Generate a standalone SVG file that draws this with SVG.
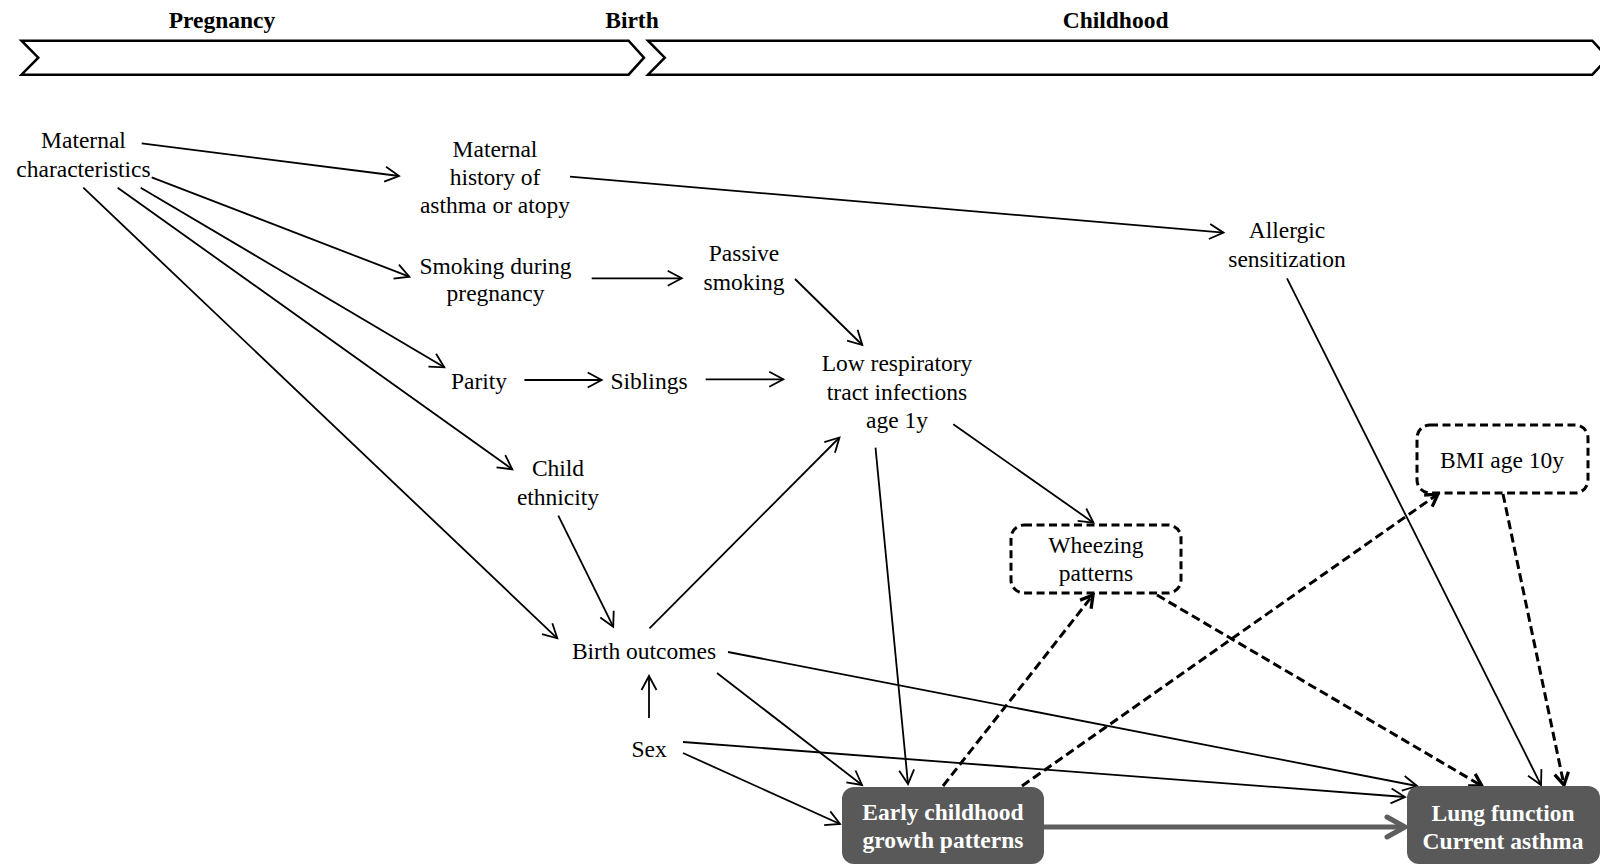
<svg xmlns="http://www.w3.org/2000/svg" width="1600" height="864" viewBox="0 0 1600 864">
<style>
.t{font-family:"Liberation Serif","Times New Roman",serif;font-size:23.5px;text-anchor:middle;fill:#000}
.b{font-weight:bold}
.w{fill:#fff;font-weight:bold}
.ln{stroke:#000;stroke-width:1.8;fill:none}
.ds{stroke:#000;stroke-width:3;fill:none;stroke-dasharray:9 4.5}
.gr{stroke:#5e5e5e;stroke-width:5;fill:none}
.chev{fill:#fff;stroke:#000;stroke-width:2.5;stroke-linejoin:miter}
.dbox{fill:#fff;stroke:#000;stroke-width:3;stroke-dasharray:8 4.5}
.gbox{fill:#595959;stroke:none}
</style>
<defs>
<marker id="ah" markerUnits="userSpaceOnUse" markerWidth="24" markerHeight="24" viewBox="0 0 24 24" refX="17" refY="12" orient="auto">
<path d="M3,4.5 L17,12 L3,19.5" fill="none" stroke="#000" stroke-width="1.8"/>
</marker>
<marker id="ahd" markerUnits="userSpaceOnUse" markerWidth="24" markerHeight="24" viewBox="0 0 24 24" refX="17" refY="12" orient="auto">
<path d="M5,5 L17,12 L5,19" fill="none" stroke="#000" stroke-width="3.3" stroke-dasharray="none"/>
</marker>
<marker id="ahg" markerUnits="userSpaceOnUse" markerWidth="30" markerHeight="30" viewBox="0 0 30 30" refX="22" refY="15" orient="auto">
<path d="M4,5 L22,15 L4,25" fill="none" stroke="#5e5e5e" stroke-width="5" stroke-linecap="round" stroke-linejoin="round"/>
</marker>
</defs>
<rect width="1600" height="864" fill="#fff"/>

<g id="timeline">
<polygon class="chev" points="21.5,40.7 628.6,40.7 644,57.7 628.6,74.7 21.5,74.7 38.3,57.7"/>
<polygon class="chev" points="648,40.7 1592.3,40.7 1608,57.7 1592.3,74.7 648,74.7 664.8,57.7"/>
<text class="t b" x="222" y="28.3">Pregnancy</text>
<text class="t b" x="632" y="28.3">Birth</text>
<text class="t b" x="1115.6" y="28.3">Childhood</text>
</g>

<g id="connectors">
<line class="ln" marker-end="url(#ah)" x1="141.7" y1="143.3" x2="399" y2="176"/>
<line class="ln" marker-end="url(#ah)" x1="151.7" y1="177.3" x2="409.3" y2="276.7"/>
<line class="ln" marker-end="url(#ah)" x1="140.7" y1="187.7" x2="444.3" y2="367.3"/>
<line class="ln" marker-end="url(#ah)" x1="117.7" y1="187.7" x2="512.3" y2="469.3"/>
<line class="ln" marker-end="url(#ah)" x1="83.3" y1="187.7" x2="557.3" y2="638.3"/>
<line class="ln" marker-end="url(#ah)" x1="570" y1="176.7" x2="1223.5" y2="232.7"/>
<line class="ln" marker-end="url(#ah)" x1="591.7" y1="278.3" x2="681.7" y2="278.3"/>
<line class="ln" marker-end="url(#ah)" x1="795" y1="279" x2="862.3" y2="345"/>
<line class="ln" marker-end="url(#ah)" x1="524.4" y1="380" x2="601.7" y2="380"/>
<line class="ln" marker-end="url(#ah)" x1="705.7" y1="379.3" x2="783.3" y2="379.3"/>
<line class="ln" marker-end="url(#ah)" x1="558.3" y1="515.7" x2="613.2" y2="626.7"/>
<line class="ln" marker-end="url(#ah)" x1="649.5" y1="628.3" x2="839.5" y2="437.5"/>
<line class="ln" marker-end="url(#ah)" x1="953.3" y1="424.3" x2="1093.4" y2="522.7"/>
<line class="ln" marker-end="url(#ah)" x1="875.5" y1="447.7" x2="908" y2="784"/>
<line class="ln" marker-end="url(#ah)" x1="649" y1="718" x2="649" y2="676"/>
<line class="ln" marker-end="url(#ah)" x1="717" y1="673" x2="862" y2="785"/>
<line class="ln" marker-end="url(#ah)" x1="728" y1="652" x2="1417" y2="786"/>
<line class="ln" marker-end="url(#ah)" x1="683" y1="742" x2="1405" y2="797"/>
<line class="ln" marker-end="url(#ah)" x1="683" y1="753" x2="840" y2="824"/>
<line class="ln" marker-end="url(#ah)" x1="1287" y1="278.3" x2="1541" y2="785"/>
<line class="ds" marker-end="url(#ahd)" x1="943" y1="786" x2="1093" y2="595"/>
<line class="ds" marker-end="url(#ahd)" x1="1022" y1="786" x2="1438" y2="494"/>
<line class="ds" marker-end="url(#ahd)" x1="1157" y1="595" x2="1482" y2="786"/>
<line class="ds" marker-end="url(#ahd)" x1="1503" y1="494" x2="1564" y2="785"/>
<line class="gr" marker-end="url(#ahg)" x1="1044" y1="827" x2="1405" y2="827"/>
</g>

<g id="maternal-characteristics">
<text class="t" x="83.5" y="148.3">Maternal</text>
<text class="t" x="83.5" y="176.7">characteristics</text>
</g>
<g id="maternal-history">
<text class="t" x="495" y="157">Maternal</text>
<text class="t" x="495" y="185">history of</text>
<text class="t" x="495" y="213">asthma or atopy</text>
</g>
<g id="smoking-pregnancy">
<text class="t" x="495.5" y="273.5">Smoking during</text>
<text class="t" x="495.5" y="300.5">pregnancy</text>
</g>
<g id="passive-smoking">
<text class="t" x="744" y="261">Passive</text>
<text class="t" x="744" y="290">smoking</text>
</g>
<g id="parity">
<text class="t" x="479" y="389">Parity</text>
</g>
<g id="siblings">
<text class="t" x="649" y="388.5">Siblings</text>
</g>
<g id="lrti">
<text class="t" x="897" y="371">Low respiratory</text>
<text class="t" x="897" y="399.5">tract infections</text>
<text class="t" x="897" y="428">age 1y</text>
</g>
<g id="child-ethnicity">
<text class="t" x="558" y="476">Child</text>
<text class="t" x="558" y="505">ethnicity</text>
</g>
<g id="birth-outcomes">
<text class="t" x="644" y="659">Birth outcomes</text>
</g>
<g id="sex">
<text class="t" x="649" y="757">Sex</text>
</g>
<g id="allergic-sensitization">
<text class="t" x="1287" y="238">Allergic</text>
<text class="t" x="1287" y="267">sensitization</text>
</g>
<g id="wheezing-patterns">
<rect class="dbox" x="1011" y="525" width="170" height="68" rx="13"/>
<text class="t" x="1096" y="553">Wheezing</text>
<text class="t" x="1096" y="581">patterns</text>
</g>
<g id="bmi">
<rect class="dbox" x="1417" y="425" width="171" height="68" rx="13"/>
<text class="t" x="1502" y="468">BMI age 10y</text>
</g>
<g id="early-growth">
<rect class="gbox" x="842" y="787" width="202" height="77" rx="12"/>
<text class="t w" x="943" y="820">Early childhood</text>
<text class="t w" x="943" y="848">growth patterns</text>
</g>
<g id="lung-function">
<rect class="gbox" x="1407" y="786" width="193" height="78" rx="12"/>
<text class="t w" x="1503" y="821">Lung function</text>
<text class="t w" x="1503" y="849">Current asthma</text>
</g>
</svg>
